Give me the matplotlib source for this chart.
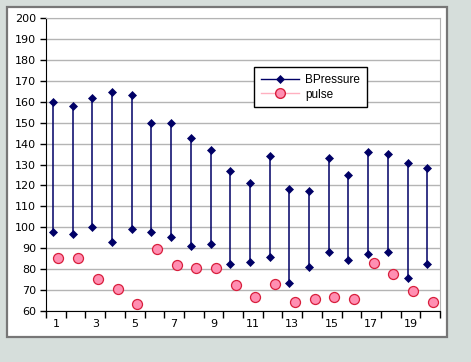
import numpy as np
import matplotlib.pyplot as plt
from matplotlib.lines import Line2D
from matplotlib.patches import Rectangle

categories = list(range(1, 21))
bp_high = [160, 158, 162, 164.5, 163.5, 150, 150, 142.5, 137, 127,
           121, 134, 118.5, 117.5, 133, 125, 136, 135, 130.5, 128.5]
bp_low = [97.5, 96.5, 100, 93, 99, 97.5, 95.5, 91, 92, 82.5,
          83.5, 85.5, 73.5, 81, 88, 84.5, 87, 88, 75.5, 82.5]
pulse = [85, 85, 75, 70.5, 63, 89.5, 82, 80.5, 80.5, 72.5,
         66.5, 73, 64, 65.5, 66.5, 65.5, 83, 77.5, 69.5, 64]

navy = '#000066'
pink_face = '#ff8fb2'
pink_edge = '#d81e3c'

fig = plt.figure(figsize=(4.71, 3.62), dpi=100, facecolor='#d6dedb')

# white chart panel with gray frame
fig.patches.append(Rectangle((0.0155, 0.070), 0.933, 0.91, transform=fig.transFigure,
                             facecolor='white', edgecolor='#777777', linewidth=1.6,
                             zorder=-1))

ax = fig.add_axes([0.0977, 0.1417, 0.8365, 0.8077])
ax.set_zorder(2)
ax.set_facecolor('white')

x = np.array(categories, dtype=float)
xb = x - 0.15
xp = x + 0.13

ax.vlines(xb, bp_low, bp_high, color=navy, linewidth=1.1, zorder=3)
ax.plot(xb, bp_high, linestyle='none', marker='D', markersize=4.5,
        markeredgewidth=0.5, color=navy, zorder=4)
ax.plot(xb, bp_low, linestyle='none', marker='D', markersize=4.5,
        markeredgewidth=0.5, color=navy, zorder=4)
ax.plot(xp, pulse, linestyle='none', marker='o', markersize=7.2,
        markerfacecolor=pink_face, markeredgecolor=pink_edge,
        markeredgewidth=0.9, zorder=4)

ax.set_ylim(60, 200)
ax.set_yticks(np.arange(60, 201, 10))
ax.yaxis.grid(True, color='#b4b4b4', linewidth=1)
ax.set_axisbelow(True)

ax.set_xlim(0.5, 20.5)
ax.set_xticks(np.arange(0.5, 21, 1))
ax.set_xticklabels([])
ax.set_xticks(categories[::2], minor=True)
ax.set_xticklabels([str(c) for c in categories[::2]], minor=True)
ax.tick_params(axis='x', which='major', length=5, width=1, color='black')
ax.tick_params(axis='x', which='minor', length=0, pad=6, labelsize=8)
ax.tick_params(axis='y', length=4, width=1, pad=3, labelsize=8)

for side in ['top', 'right']:
    ax.spines[side].set_color('#b4b4b4')
for side in ['left', 'bottom']:
    ax.spines[side].set_color('black')

handles = [
    Line2D([], [], color=navy, linewidth=1, marker='D', markersize=4.5,
           markeredgewidth=0.5),
    Line2D([], [], color='#ffb0c0', linewidth=1, marker='o', markersize=7,
           markerfacecolor=pink_face, markeredgecolor=pink_edge),
]
leg = ax.legend(handles, ['BPressure', 'pulse'], loc='upper left',
                bbox_to_anchor=(0.528, 0.833), frameon=True, fancybox=False,
                framealpha=1, edgecolor='black', handlelength=3.3,
                handletextpad=0.5, borderpad=0.55, labelspacing=0.25,
                borderaxespad=0,
                prop={'family': 'Liberation Sans', 'size': 8.5})
leg.get_frame().set_linewidth(1)

fig.savefig('out.png', dpi=100, facecolor=fig.get_facecolor())
